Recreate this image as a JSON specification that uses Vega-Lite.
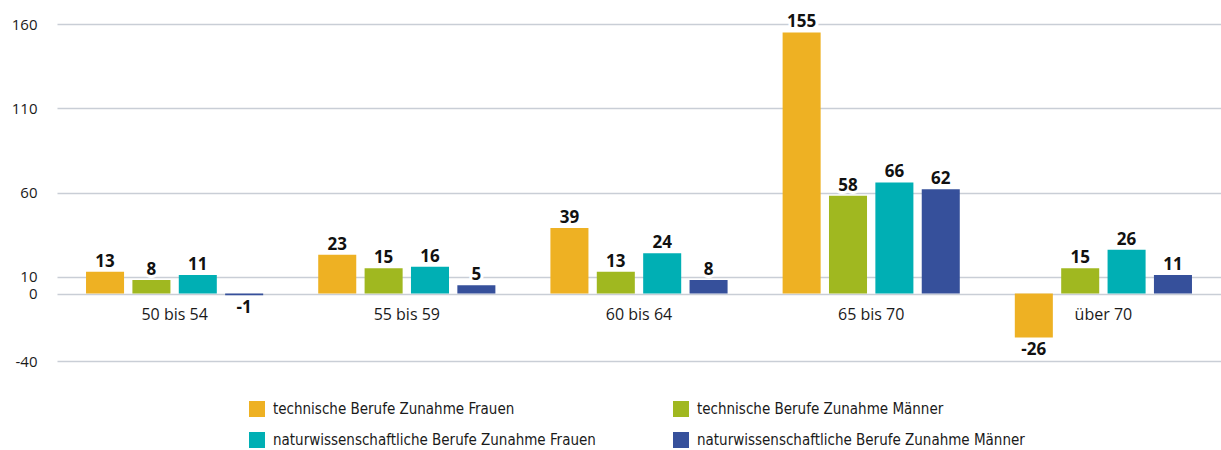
{
  "$schema": "https://vega.github.io/schema/vega-lite/v6.json",
  "width": 1164,
  "height": 337,
  "autosize": {"type": "none"},
  "padding": {"left": 57, "top": 24, "right": 0, "bottom": 89},
  "background": "white",
  "config": {
    "view": {"stroke": null},
    "font": "Open Sans"
  },
  "data": {
    "values": [
      {"gruppe": "50 bis 54", "serie": "technische Berufe Zunahme Frauen", "wert": 13},
      {"gruppe": "50 bis 54", "serie": "technische Berufe Zunahme Männer", "wert": 8},
      {"gruppe": "50 bis 54", "serie": "naturwissenschaftliche Berufe Zunahme Frauen", "wert": 11},
      {"gruppe": "50 bis 54", "serie": "naturwissenschaftliche Berufe Zunahme Männer", "wert": -1},
      {"gruppe": "55 bis 59", "serie": "technische Berufe Zunahme Frauen", "wert": 23},
      {"gruppe": "55 bis 59", "serie": "technische Berufe Zunahme Männer", "wert": 15},
      {"gruppe": "55 bis 59", "serie": "naturwissenschaftliche Berufe Zunahme Frauen", "wert": 16},
      {"gruppe": "55 bis 59", "serie": "naturwissenschaftliche Berufe Zunahme Männer", "wert": 5},
      {"gruppe": "60 bis 64", "serie": "technische Berufe Zunahme Frauen", "wert": 39},
      {"gruppe": "60 bis 64", "serie": "technische Berufe Zunahme Männer", "wert": 13},
      {"gruppe": "60 bis 64", "serie": "naturwissenschaftliche Berufe Zunahme Frauen", "wert": 24},
      {"gruppe": "60 bis 64", "serie": "naturwissenschaftliche Berufe Zunahme Männer", "wert": 8},
      {"gruppe": "65 bis 70", "serie": "technische Berufe Zunahme Frauen", "wert": 155},
      {"gruppe": "65 bis 70", "serie": "technische Berufe Zunahme Männer", "wert": 58},
      {"gruppe": "65 bis 70", "serie": "naturwissenschaftliche Berufe Zunahme Frauen", "wert": 66},
      {"gruppe": "65 bis 70", "serie": "naturwissenschaftliche Berufe Zunahme Männer", "wert": 62},
      {"gruppe": "über 70", "serie": "technische Berufe Zunahme Frauen", "wert": -26},
      {"gruppe": "über 70", "serie": "technische Berufe Zunahme Männer", "wert": 15},
      {"gruppe": "über 70", "serie": "naturwissenschaftliche Berufe Zunahme Frauen", "wert": 26},
      {"gruppe": "über 70", "serie": "naturwissenschaftliche Berufe Zunahme Männer", "wert": 11}
    ]
  },
  "encoding": {
    "x": {
      "field": "gruppe", "type": "nominal", "sort": null,
      "scale": {"paddingInner": 0.237, "paddingOuter": 0.125},
      "axis": {
        "title": null, "labelAngle": 0, "domain": false, "ticks": false,
        "offset": -67, "labelPadding": 12, "labelFontSize": 16, "labelColor": "#1a1a1a",
        "labelFont": "Open Sans"
      }
    },
    "xOffset": {
      "field": "serie", "type": "nominal", "sort": null,
      "scale": {"paddingInner": 0.18, "paddingOuter": 0}
    },
    "y": {
      "field": "wert", "type": "quantitative",
      "scale": {"domain": [-40, 160], "nice": false, "zero": false},
      "axis": {
        "title": null, "values": [-40, 0, 10, 60, 110, 160],
        "labelExpr": "'' + datum.value",
        "domain": false, "ticks": false, "labelPadding": 20,
        "labelFontSize": 15, "labelColor": "#1a1a1a",
        "gridColor": "#c9ced6", "gridWidth": 1.5
      }
    }
  },
  "layer": [
    {
      "mark": {"type": "bar"},
      "encoding": {
        "color": {
          "field": "serie", "type": "nominal", "sort": null,
          "scale": {
            "domain": [
              "technische Berufe Zunahme Frauen",
              "technische Berufe Zunahme Männer",
              "naturwissenschaftliche Berufe Zunahme Frauen",
              "naturwissenschaftliche Berufe Zunahme Männer"
            ],
            "range": ["#eeb123", "#a0b820", "#00afb4", "#36509b"]
          },
          "legend": {
            "title": null, "orient": "none", "legendX": 192, "legendY": 377,
            "direction": "horizontal", "columns": 2, "columnPadding": 77, "rowPadding": 15,
            "symbolType": "square", "symbolSize": 256,
            "symbolStrokeWidth": 0, "symbolOpacity": 1,
            "labelFont": "DejaVu Sans Condensed", "labelFontSize": 15, "labelColor": "#1a1a1a",
            "labelOffset": 8, "labelLimit": 400
          }
        }
      }
    },
    {
      "transform": [{"filter": "datum.wert >= 0"}],
      "mark": {"type": "text", "baseline": "alphabetic", "dy": -5, "fontSize": 17, "fontWeight": "bold", "stroke": "white", "strokeWidth": 6, "strokeJoin": "round", "fill": "white"},
      "encoding": {"text": {"field": "wert"}}
    },
    {
      "transform": [{"filter": "datum.wert >= 0"}],
      "mark": {"type": "text", "baseline": "alphabetic", "dy": -5, "fontSize": 17, "fontWeight": "bold", "fill": "#111111"},
      "encoding": {"text": {"field": "wert"}}
    },
    {
      "transform": [{"filter": "datum.wert < 0"}],
      "mark": {"type": "text", "baseline": "top", "dy": 5, "fontSize": 17, "fontWeight": "bold", "stroke": "white", "strokeWidth": 6, "strokeJoin": "round", "fill": "white"},
      "encoding": {"text": {"field": "wert"}}
    },
    {
      "transform": [{"filter": "datum.wert < 0"}],
      "mark": {"type": "text", "baseline": "top", "dy": 5, "fontSize": 17, "fontWeight": "bold", "fill": "#111111"},
      "encoding": {"text": {"field": "wert"}}
    }
  ]
}
